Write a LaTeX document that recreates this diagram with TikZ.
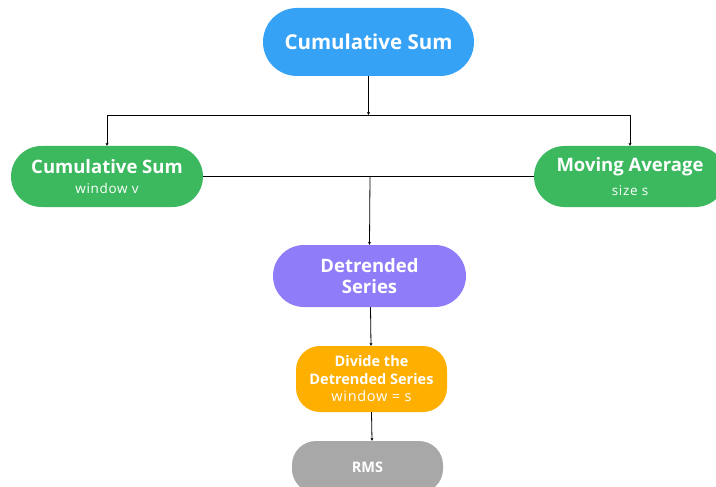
\documentclass[tikz,border=0pt]{standalone}
\usepackage{fontspec}
\setmainfont{Open Sans}
\newfontfamily\subf[LetterSpace=5]{Open Sans}
\usetikzlibrary{arrows.meta}
\definecolor{cblue}{HTML}{36A2F5}
\definecolor{cgreen}{HTML}{3CB95F}
\definecolor{cpurple}{HTML}{8F7CF8}
\definecolor{corange}{HTML}{FFAF00}
\definecolor{cgray}{HTML}{A8A8A8}
\begin{document}
\begin{tikzpicture}[x=1pt,y=-1pt,
  pill/.style={draw=none,text=white,align=center,inner sep=0pt,font=\bfseries},
  arr/.style={-{Stealth[length=3pt,width=3pt]},line width=0.8pt,black},
  ln/.style={line width=0.8pt,black}]
\useasboundingbox (0,0) rectangle (716,487);
\node[pill,fill=cblue,minimum width=211pt,minimum height=68pt,rounded corners=34pt,font=\bfseries\fontsize{20.5}{24}\selectfont] (top) at (368.5,42) {Cumulative Sum};
\node[pill,fill=cgreen,minimum width=192pt,minimum height=61pt,rounded corners=30.5pt] (left) at (107,176.5) {{\fontsize{18.5}{20}\selectfont Cumulative Sum}\\[8pt]{\subf\mdseries\fontsize{13.5}{15}\selectfont window v}};
\node[pill,fill=cgreen,minimum width=192pt,minimum height=61pt,rounded corners=30.5pt] (right) at (630,176.5) {{\fontsize{18.5}{20}\selectfont Moving Average}\\[8pt]{\subf\mdseries\fontsize{13.5}{15}\selectfont size s}};
\node[pill,fill=cpurple,minimum width=193pt,minimum height=62pt,rounded corners=31pt,font=\bfseries\fontsize{18.5}{21}\selectfont] (det) at (369.5,276) {Detrended\\Series};
\node[pill,fill=corange,minimum width=151pt,minimum height=66pt,rounded corners=24pt,font=\bfseries\fontsize{14.5}{17.5}\selectfont] (div) at (371.5,379) {Divide the\\Detrended Series\\{\subf\mdseries window = s}};
\node[pill,fill=cgray,minimum width=151pt,minimum height=52pt,rounded corners=24pt,font=\bfseries\fontsize{14.5}{16}\selectfont] (rms) at (367.5,467) {RMS};
\coordinate (j1) at (368.5,115);
\coordinate (j2) at (370,176.5);
\draw[arr] (top) -- (j1);
\draw[arr] (j1) -| (left.north);
\draw[arr] (j1) -| (right.north);
\draw[ln] (left.east) -- (right.west);
\draw[arr] (j2) -- (det.north);
\draw[arr] ([xshift=1pt]det.south) -- ([xshift=-0.5pt]div.north);
\draw[arr] (div.south) -- ([xshift=4.5pt]rms.north);
\end{tikzpicture}
\end{document}
